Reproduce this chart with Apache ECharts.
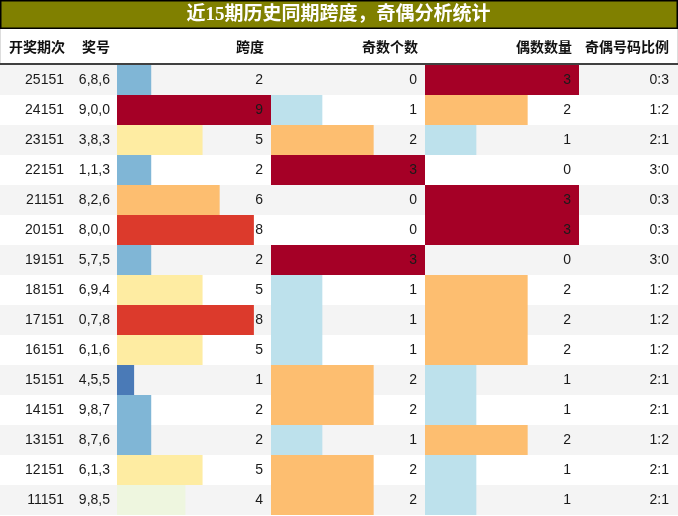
<!DOCTYPE html>
<html>
<head>
<meta charset="utf-8">
<script src="https://cdn.jsdelivr.net/npm/echarts@6/dist/echarts.min.js"></script>
<style>
  html, body { margin: 0; padding: 0; background: #fff; }
  #main { width: 678px; height: 516px; }
</style>
</head>
<body>
<div id="main"></div>
<script>
// 开奖期次 / 奖号
const PERIODS = ['25151', '24151', '23151', '22151', '21151', '20151', '19151', '18151',
  '17151', '16151', '15151', '14151', '13151', '12151', '11151'];
const NUMBERS = ['6,8,6', '9,0,0', '3,8,3', '1,1,3', '8,2,6', '8,0,0', '5,7,5', '6,9,4',
  '0,7,8', '6,1,6', '4,5,5', '9,8,7', '8,7,6', '6,1,3', '9,8,5'];
// 跨度, 奇数个数, 偶数数量, 比例
const SPAN = [2, 9, 5, 2, 6, 8, 2, 5, 8, 5, 1, 2, 2, 5, 4];
const ODD = [0, 1, 2, 3, 0, 0, 3, 1, 1, 1, 2, 2, 1, 2, 2];
const EVEN = [3, 2, 1, 0, 3, 3, 0, 2, 2, 2, 1, 1, 2, 1, 1];
const RATIO = ['0:3', '1:2', '2:1', '3:0', '0:3', '0:3', '3:0', '1:2', '1:2', '1:2',
  '2:1', '2:1', '1:2', '2:1', '2:1'];
const HEADERS = ['开奖期次', '奖号', '跨度', '奇数个数', '偶数数量', '奇偶号码比例'];
const TITLE = '近15期历史同期跨度，奇偶分析统计';

// 颜色按数值取
const SPAN_COLOR = {
  1: '#4a7ab7', 2: '#80b6d6', 3: '#bde1ec', 4: '#eef6df', 5: '#feeca2',
  6: '#fdbe70', 7: '#f46d43', 8: '#dc3a2c', 9: '#a50026'
};
const COUNT_COLOR = { 1: '#bde1ec', 2: '#fdbe70', 3: '#a50026' };

const FONT = '14px "Liberation Sans", Arial, sans-serif';
const TEXT_COLOR = '#1a1a1a';
const TOP = 65;
const ROW_H = 30;
const HEADER_X = [65, 110, 264, 418, 572, 669];
const COLS = [[117, 154], [271, 154], [425, 154]]; // 柱状列 left, width

function rowItem(params, api) {
  let i = api.value(1);
  let c = api.coord([0, i]);
  let h = api.size([0, 1])[1];
  let text = (x, s) => ({
    type: 'text', x: x, y: c[1],
    style: { text: s, align: 'right', verticalAlign: 'middle', font: FONT, fill: TEXT_COLOR }
  });
  return {
    type: 'group',
    children: [
      { type: 'rect', shape: { x: 0, y: c[1] - h / 2, width: 678, height: h },
        style: { fill: i % 2 === 0 ? '#f4f4f4' : '#ffffff' } },
      text(64, PERIODS[i]),
      text(110, NUMBERS[i]),
      text(669, RATIO[i])
    ]
  };
}

function barItem(colors) {
  return function(params, api) {
    let v = api.value(0);
    let i = api.value(1);
    let start = api.coord([0, i]);
    let end = api.coord([v, i]);
    let h = api.size([0, 1])[1];
    let cs = params.coordSys;
    let children = [];
    if (v > 0) {
      children.push({
        type: 'rect',
        shape: { x: start[0], y: start[1] - h / 2, width: end[0] - start[0], height: h },
        style: { fill: colors[v] }
      });
    }
    children.push({
      type: 'text', x: cs.x + cs.width - 8, y: start[1],
      style: { text: String(v), align: 'right', verticalAlign: 'middle', font: FONT, fill: TEXT_COLOR }
    });
    return { type: 'group', children: children };
  };
}

let grids = [{ left: 0, width: 678, top: TOP, height: ROW_H * PERIODS.length }];
COLS.forEach(c => grids.push({ left: c[0], width: c[1], top: TOP, height: ROW_H * PERIODS.length }));

let xAxis = [0, 9, 3, 3].map((max, k) => ({
  type: 'value', gridIndex: k, min: 0, max: k === 0 ? 1 : max, show: false
}));
let yAxis = [0, 1, 2, 3].map(k => ({
  type: 'category', gridIndex: k, inverse: true, data: PERIODS, show: false
}));

let header = HEADERS.map((h, k) => ({
  type: 'text', x: HEADER_X[k], y: 47,
  style: {
    text: h, align: 'right', verticalAlign: 'middle',
    font: 'bold 14px "Noto Sans CJK SC", sans-serif', fill: '#111'
  }
}));

let option = {
  animation: false,
  grid: grids,
  xAxis: xAxis,
  yAxis: yAxis,
  graphic: [
    { type: 'rect', shape: { x: 0.75, y: 0.75, width: 676.5, height: 27.5 },
      style: { fill: '#808000', stroke: '#000', lineWidth: 1.5 } },
    { type: 'text', x: 338.5, y: 15,
      style: { text: TITLE, align: 'center', verticalAlign: 'middle',
        font: 'bold 19px "Liberation Serif", "Noto Sans CJK SC", serif', fill: '#fff' } },
    { type: 'line', shape: { x1: 677.5, y1: 29, x2: 677.5, y2: 63 }, style: { stroke: '#ddd', lineWidth: 1 } },
    { type: 'line', shape: { x1: 0.5, y1: 29, x2: 0.5, y2: 63 }, style: { stroke: '#ddd', lineWidth: 1 } },
    { type: 'line', shape: { x1: 0, y1: 64, x2: 678, y2: 64 }, style: { stroke: '#000', lineWidth: 1.5 }, z: 100 }
  ].concat(header),
  series: [
    {
      type: 'custom', xAxisIndex: 0, yAxisIndex: 0, z: 1,
      renderItem: rowItem, encode: { x: 0, y: 1 },
      data: PERIODS.map((p, i) => [0, i])
    },
    {
      type: 'custom', xAxisIndex: 1, yAxisIndex: 1, z: 2,
      renderItem: barItem(SPAN_COLOR), encode: { x: 0, y: 1 },
      data: SPAN.map((v, i) => [v, i])
    },
    {
      type: 'custom', xAxisIndex: 2, yAxisIndex: 2, z: 2,
      renderItem: barItem(COUNT_COLOR), encode: { x: 0, y: 1 },
      data: ODD.map((v, i) => [v, i])
    },
    {
      type: 'custom', xAxisIndex: 3, yAxisIndex: 3, z: 2,
      renderItem: barItem(COUNT_COLOR), encode: { x: 0, y: 1 },
      data: EVEN.map((v, i) => [v, i])
    }
  ]
};

let myChart = echarts.init(document.getElementById('main'));
myChart.setOption(option);
</script>
</body>
</html>
